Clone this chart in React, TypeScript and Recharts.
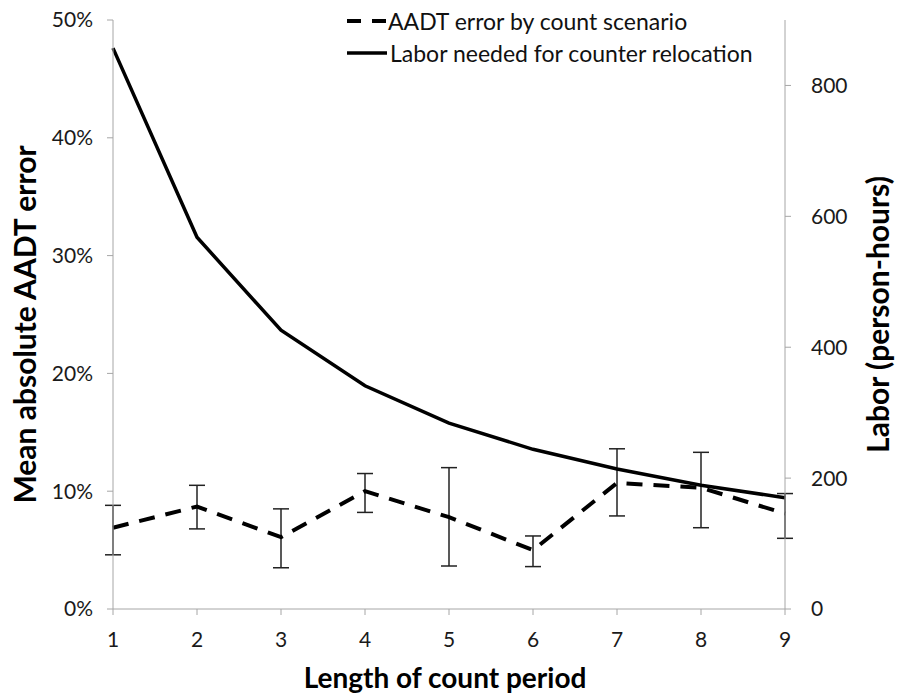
import React from 'react';
import {
  ComposedChart,
  Line,
  XAxis,
  YAxis,
  ErrorBar,
  Label,
} from 'recharts';

const periods = [1, 2, 3, 4, 5, 6, 7, 8, 9];
const aadtError = [6.9, 8.7, 6.1, 10.0, 7.8, 5.0, 10.7, 10.3, 8.1];
const errorLow = [4.6, 6.8, 3.5, 8.2, 3.65, 3.6, 7.9, 6.9, 6.0];
const errorHigh = [8.8, 10.5, 8.5, 11.5, 12.0, 6.2, 13.6, 13.3, 9.8];
const labor = [857, 568, 426, 341, 284, 244, 214, 189, 170];

const leftTicks = [0, 10, 20, 30, 40, 50];
const rightTicks = [0, 200, 400, 600, 800];

const data = periods.map((p, i) => ({
  period: p,
  error: aadtError[i],
  errRange: [aadtError[i] - errorLow[i], errorHigh[i] - aadtError[i]],
  labor: labor[i],
}));

const FONT = 'Lato, "Open Sans", sans-serif';
const axisGray = '#a6a6a6';
const tickStyle = { fontSize: 21, fill: '#1a1a1a', fontFamily: FONT };

// legend sits inside the plot area, top centre
const LegendBox = () => (
  <div
    style={{
      position: 'absolute',
      top: 5,
      left: 347,
      fontFamily: FONT,
      fontSize: 23,
      color: '#111',
      lineHeight: '32px',
      whiteSpace: 'nowrap',
    }}
  >
    <div style={{ display: 'flex', alignItems: 'center' }}>
      <svg width={40} height={10}>
        <line x1={0} y1={5} x2={40} y2={5} stroke="#000" strokeWidth={4} strokeDasharray="14 11" />
      </svg>
      <span style={{ marginLeft: 1 }}>AADT error by count scenario</span>
    </div>
    <div style={{ display: 'flex', alignItems: 'center' }}>
      <svg width={40} height={10}>
        <line x1={0} y1={5} x2={40} y2={5} stroke="#000" strokeWidth={3.5} />
      </svg>
      <span style={{ marginLeft: 3 }}>Labor needed for counter relocation</span>
    </div>
  </div>
);

export default function App() {
  return (
    <div style={{ position: 'absolute', left: 0, top: 0, width: 897, height: 694, background: '#fff' }}>
      <ComposedChart
        width={897}
        height={694}
        data={data}
        margin={{ top: 20, right: 0, bottom: 0, left: 0 }}
      >
        <XAxis
          dataKey="period"
          type="number"
          domain={[1, 9]}
          ticks={periods}
          height={85}
          tickSize={6}
          tickMargin={17}
          stroke={axisGray}
          tick={tickStyle}
        >
          <Label
            content={({ viewBox }: any) => (
              <text
                x={viewBox.x + viewBox.width / 2 - 4}
                y={viewBox.y + 79}
                textAnchor="middle"
                style={{ fontSize: 28, fontWeight: 700, fontFamily: FONT, fill: '#000' }}
              >
                Length of count period
              </text>
            )}
          />
        </XAxis>
        <YAxis
          yAxisId="left"
          domain={[0, 50]}
          ticks={leftTicks}
          width={113}
          tickSize={6}
          tickMargin={14}
          stroke={axisGray}
          tick={tickStyle}
          tickFormatter={(v: number) => `${v}%`}
        >
          <Label
            content={({ viewBox }: any) => (
              <text
                transform={`translate(${viewBox.x + 36}, ${viewBox.y + viewBox.height / 2 + 10}) rotate(-90)`}
                textAnchor="middle"
                style={{ fontSize: 30, fontWeight: 700, fontFamily: FONT, fill: '#000' }}
              >
                Mean absolute AADT error
              </text>
            )}
          />
        </YAxis>
        <YAxis
          yAxisId="right"
          orientation="right"
          domain={[0, 900]}
          ticks={rightTicks}
          width={112}
          tickSize={6}
          tickMargin={20}
          stroke={axisGray}
          tick={tickStyle}
        >
          <Label
            content={({ viewBox }: any) => (
              <text
                transform={`translate(${viewBox.x + 104}, ${viewBox.y + viewBox.height / 2}) rotate(-90)`}
                textAnchor="middle"
                style={{ fontSize: 30, fontWeight: 700, fontFamily: FONT, fill: '#000' }}
              >
                Labor (person-hours)
              </text>
            )}
          />
        </YAxis>
        <Line
          yAxisId="left"
          dataKey="error"
          stroke="#000"
          strokeWidth={4}
          strokeDasharray="16 11"
          dot={false}
          isAnimationActive={false}
        >
          <ErrorBar dataKey="errRange" width={8} stroke="#222" strokeWidth={1.5} direction="y" />
        </Line>
        <Line
          yAxisId="right"
          dataKey="labor"
          stroke="#000"
          strokeWidth={3.5}
          dot={false}
          isAnimationActive={false}
        />
      </ComposedChart>
      <LegendBox />
    </div>
  );
}
